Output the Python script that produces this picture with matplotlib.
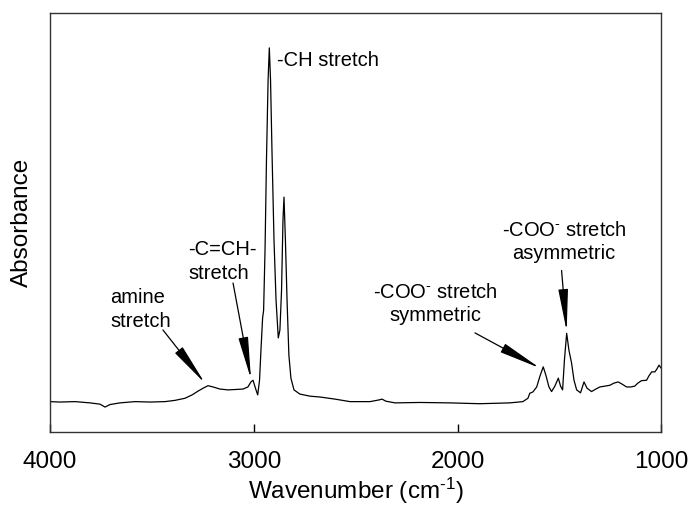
#!/usr/bin/env python3
import numpy as np
import matplotlib
matplotlib.use('Agg')
import matplotlib.pyplot as plt
from matplotlib.patches import ArrowStyle

# spectrum (wavenumber, absorbance in arbitrary units)
wavenumber = [4000, 3951, 3877, 3804, 3755, 3730, 3706, 3657, 3583, 3509,
              3436, 3387, 3338, 3303, 3274, 3249, 3225, 3200, 3166, 3127,
              3087, 3053, 3029, 3014, 3004, 2992, 2981, 2972, 2965, 2957,
              2952, 2945, 2938, 2930, 2924, 2918, 2911, 2901, 2891, 2880,
              2872, 2864, 2857, 2852, 2845, 2837, 2828, 2818, 2803, 2774,
              2724, 2675, 2602, 2528, 2430, 2386, 2371, 2352, 2307, 2185,
              2038, 1891, 1744, 1680, 1655, 1646, 1631, 1612, 1596, 1580,
              1567, 1552, 1539, 1523, 1506, 1495, 1485, 1476, 1465, 1454,
              1441, 1429, 1416, 1397, 1380, 1365, 1343, 1322, 1302, 1277,
              1253, 1234, 1212, 1194, 1171, 1150, 1131, 1116, 1098, 1073,
              1062, 1048, 1032, 1022, 1012, 1000]
absorbance = [0.072, 0.071, 0.072, 0.069, 0.066, 0.059, 0.065, 0.069, 0.072, 0.071,
              0.072, 0.075, 0.080, 0.088, 0.097, 0.104, 0.110, 0.107, 0.102, 0.100,
              0.101, 0.102, 0.107, 0.119, 0.123, 0.104, 0.088, 0.123, 0.195, 0.271,
              0.290, 0.434, 0.648, 0.839, 0.916, 0.839, 0.672, 0.457, 0.314, 0.224,
              0.243, 0.338, 0.505, 0.560, 0.457, 0.314, 0.183, 0.128, 0.100, 0.090,
              0.085, 0.083, 0.078, 0.072, 0.072, 0.076, 0.078, 0.073, 0.069, 0.070,
              0.069, 0.067, 0.069, 0.072, 0.080, 0.092, 0.095, 0.107, 0.133, 0.155,
              0.135, 0.107, 0.096, 0.109, 0.128, 0.109, 0.100, 0.171, 0.235, 0.195,
              0.164, 0.123, 0.100, 0.093, 0.119, 0.104, 0.096, 0.102, 0.107, 0.109,
              0.111, 0.116, 0.119, 0.114, 0.107, 0.107, 0.109, 0.116, 0.122, 0.123,
              0.133, 0.143, 0.143, 0.150, 0.159, 0.151]

x_ticks = [4000, 3000, 2000, 1000]

# label text, text anchor, arrow tail, arrow tip
labels = ['amine\nstretch', '-C=CH-\nstretch',
          '-COO$^{\\text{-}}$ stretch\nsymmetric',
          '-COO$^{\\text{-}}$ stretch\nasymmetric']
label_pos = [(3706, 0.292), (3323, 0.406), (2111, 0.305), (1478, 0.453)]
label_ha = ['left', 'left', 'center', 'center']
arrow_tail = [(3446, 0.243), (3102, 0.355), (1915, 0.236), (1490, 0.385)]
arrow_tip = [(3240, 0.116), (3014, 0.126), (1596, 0.152), (1465, 0.240)]


def main():
	plt.rcParams['font.family'] = ['Liberation Sans', 'DejaVu Sans']
	plt.rcParams['mathtext.fontset'] = 'custom'
	plt.rcParams['mathtext.rm'] = 'Liberation Sans'
	plt.rcParams['mathtext.it'] = 'Liberation Sans'

	fig = plt.figure(figsize=(6.89, 5.08), dpi=100)
	ax = fig.add_axes([0.0726, 0.150, 0.8874, 0.825])

	ax.plot(wavenumber, absorbance, color='black', lw=0.9)

	ax.set_xlim(4000, 1000)
	ax.set_ylim(0, 1)
	ax.set_xticks(x_ticks)
	ax.set_yticks([])
	ax.tick_params(axis='x', direction='in', length=6, width=1, pad=14, labelsize=17.5)
	for s in ax.spines.values():
		s.set_linewidth(1.0)
		s.set_color('#333333')

	ax.set_xlabel('Wavenumber (cm$^{\\text{-1}}$)', fontsize=17.5, labelpad=2)
	ax.set_ylabel('Absorbance', fontsize=17.5, labelpad=12)

	ax.text(2886, 0.887, '-CH stretch', fontsize=14.5, ha='left', va='center')

	head = ArrowStyle('-|>', head_length=2.6, head_width=0.3)
	for txt, pos, ha, tail, tip in zip(labels, label_pos, label_ha, arrow_tail, arrow_tip):
		ax.text(pos[0], pos[1], txt, fontsize=14.5, ha=ha, va='center',
				multialignment=ha, linespacing=1.3)
		ax.annotate('', xy=tip, xytext=tail,
					arrowprops=dict(arrowstyle=head, color='black', lw=0.9,
									mutation_scale=10, shrinkA=0, shrinkB=0))

	fig.savefig('out.png', dpi=100)


if __name__ == '__main__':
	main()
